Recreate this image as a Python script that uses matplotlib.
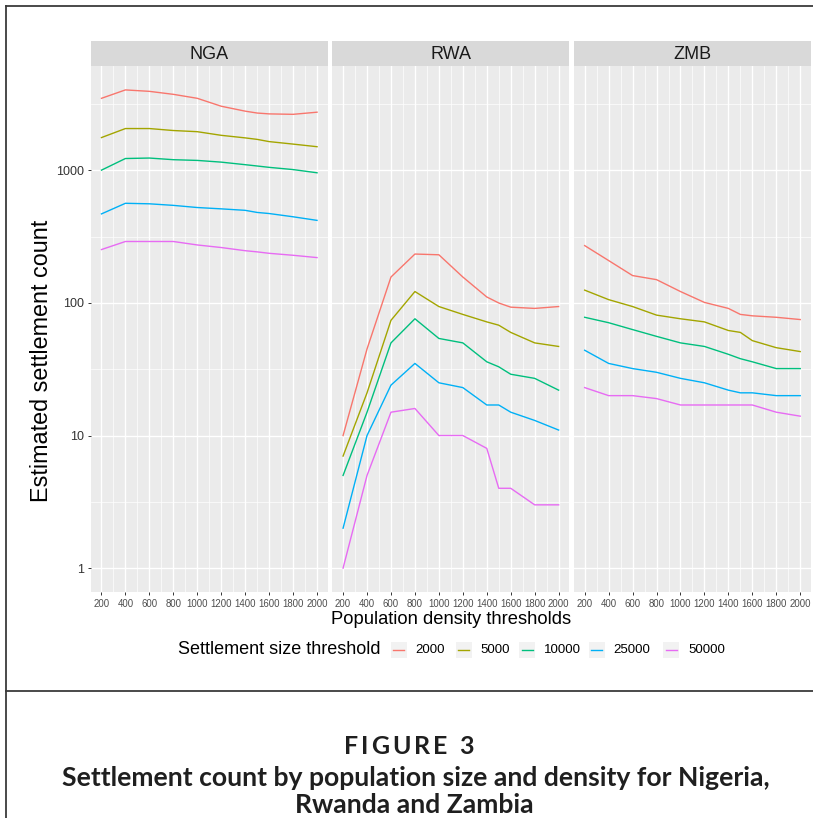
import numpy as np
import matplotlib
matplotlib.use("Agg")
import matplotlib.pyplot as plt
from matplotlib.lines import Line2D
from matplotlib.patches import Rectangle
from matplotlib.ticker import FixedLocator, NullFormatter

plt.rcParams['font.family'] = ['Liberation Sans', 'DejaVu Sans']

# ---- data -------------------------------------------------------------
density = [200, 400, 600, 800, 1000, 1200, 1400, 1500, 1600, 1800, 2000]
size_thresholds = ["2000", "5000", "10000", "25000", "50000"]
countries = ["NGA", "RWA", "ZMB"]

nga_2000 = [3500, 4050, 3950, 3750, 3500, 3050, 2800, 2710, 2670, 2650, 2750]
nga_5000 = [1770, 2070, 2070, 2000, 1960, 1840, 1760, 1715, 1650, 1580, 1510]
nga_10000 = [1005, 1230, 1240, 1205, 1190, 1155, 1105, 1080, 1055, 1015, 960]
nga_25000 = [470, 565, 560, 545, 525, 513, 500, 482, 473, 447, 420]
nga_50000 = [253, 291, 291, 291, 274, 262, 248, 243, 237, 229, 220]

rwa_2000 = [10, 45, 157, 234, 231, 157, 111, 100, 93, 91, 94]
rwa_5000 = [7, 21, 74, 122, 94, 82, 72, 68, 60, 50, 47]
rwa_10000 = [5, 15, 50, 76, 54, 50, 36, 33, 29, 27, 22]
rwa_25000 = [2, 10, 24, 35, 25, 23, 17, 17, 15, 13, 11]
rwa_50000 = [1, 5, 15, 16, 10, 10, 8, 4, 4, 3, 3]

zmb_2000 = [271, 209, 161, 150, 122, 101, 91, 82, 80, 78, 75]
zmb_5000 = [125, 106, 94, 81, 76, 72, 62, 60, 52, 46, 43]
zmb_10000 = [78, 71, 63, 56, 50, 47, 41, 38, 36, 32, 32]
zmb_25000 = [44, 35, 32, 30, 27, 25, 22, 21, 21, 20, 20]
zmb_50000 = [23, 20, 20, 19, 17, 17, 17, 17, 17, 15, 14]

series = {
    "NGA": [nga_2000, nga_5000, nga_10000, nga_25000, nga_50000],
    "RWA": [rwa_2000, rwa_5000, rwa_10000, rwa_25000, rwa_50000],
    "ZMB": [zmb_2000, zmb_5000, zmb_10000, zmb_25000, zmb_50000],
}
colors = ["#F8766D", "#A3A500", "#00BF7D", "#00B0F6", "#E76BF3"]

y_breaks = [1, 10, 100, 1000]
y_labels = ["1", "10", "100", "1000"]
x_breaks = [200, 400, 600, 800, 1000, 1200, 1400, 1600, 1800, 2000]

# ---- figure -----------------------------------------------------------
W, H = 813, 818
fig = plt.figure(figsize=(W / 100, H / 100), dpi=100)
fig.patch.set_facecolor("white")


def fx(px):
    return px / W


def fy(py):
    return 1 - py / H


# shared scales with ggplot-style 5% expansion
all_vals = np.concatenate([np.ravel(series[c]) for c in countries])
lo, hi = np.log10(all_vals.min()), np.log10(all_vals.max())
pad = 0.05 * (hi - lo)
ylim = (10 ** (lo - pad), 10 ** (hi + pad))
xpad = 0.05 * (max(density) - min(density))
xlim = (min(density) - xpad, max(density) + xpad)

panel_left, panel_right = 90.7, 811.0
panel_top, panel_bottom = 66.0, 592.0
gap = 4.5
pw = (panel_right - panel_left - 2 * gap) / 3
strip_h = 25.0

for i, c in enumerate(countries):
    x0 = panel_left + i * (pw + gap)
    ax = fig.add_axes([fx(x0), fy(panel_bottom), fx(pw), (panel_bottom - panel_top) / H])
    ax.set_facecolor("#EBEBEB")
    ax.set_yscale("log")
    ax.set_xlim(*xlim)
    ax.set_ylim(*ylim)
    for s in ax.spines.values():
        s.set_visible(False)

    # grid
    ax.xaxis.set_major_locator(FixedLocator(x_breaks))
    ax.xaxis.set_minor_locator(FixedLocator([b + 100 for b in x_breaks[:-1]]))
    ax.yaxis.set_major_locator(FixedLocator(y_breaks))
    ax.yaxis.set_minor_locator(FixedLocator([10 ** (k + 0.5) for k in range(-1, 4)]))
    ax.yaxis.set_minor_formatter(NullFormatter())
    ax.grid(which="major", color="white", linewidth=1.0)
    ax.grid(which="minor", color="white", linewidth=0.5)
    ax.set_axisbelow(True)

    for vals, col in zip(series[c], colors):
        ax.plot(density, vals, color=col, linewidth=1.0, solid_joinstyle="round")

    ax.tick_params(axis="x", which="major", length=2.5, width=0.7, color="#333333",
                   labelsize=6.9, labelcolor="#4D4D4D", pad=2.5)
    ax.tick_params(which="minor", length=0)
    ax.set_xticklabels([str(b) for b in x_breaks])
    if i == 0:
        ax.tick_params(axis="y", which="major", length=2.5, width=0.7, color="#333333",
                       labelsize=9, labelcolor="#333333", pad=2)
        ax.set_yticklabels(y_labels)
    else:
        ax.tick_params(axis="y", which="major", length=0, labelleft=False)

    # facet strip
    sax = fig.add_axes([fx(x0), fy(panel_top), fx(pw), strip_h / H])
    sax.set_facecolor("#D9D9D9")
    sax.set_xticks([])
    sax.set_yticks([])
    for s in sax.spines.values():
        s.set_visible(False)
    sax.text(0.5, 0.47, c, ha="center", va="center", fontsize=13, color="#1A1A1A",
             transform=sax.transAxes)

# axis titles
fig.text(fx((panel_left + panel_right) / 2), fy(619), "Population density thresholds",
         ha="center", va="center", fontsize=13.2, color="black")
fig.text(fx(42), fy(361), "Estimated settlement count", ha="center", va="center",
         rotation=90, fontsize=16.8, color="black")

# legend
leg_y = 650
fig.text(fx(178), fy(leg_y), "Settlement size threshold", ha="left", va="center",
         fontsize=13, color="black")
key_x = [390.7, 455.7, 519.0, 588.6, 663.0]
for kx, col, lab in zip(key_x, colors, size_thresholds):
    fig.add_artist(Rectangle((fx(kx), fy(leg_y + 8)), fx(16), 16 / H,
                             facecolor="#F2F2F2", edgecolor="none",
                             transform=fig.transFigure))
    fig.add_artist(Line2D([fx(kx + 2.5), fx(kx + 13.5)], [fy(leg_y), fy(leg_y)],
                          color=col, linewidth=1.0, transform=fig.transFigure))
    fig.text(fx(kx + 25), fy(leg_y), lab, ha="left", va="center", fontsize=9.5,
             color="black")

# frame rules
frame_col = "#3A3A3A"
fig.add_artist(Line2D([fx(5.5), 1], [fy(5.5), fy(5.5)], color=frame_col, lw=1.3,
                      transform=fig.transFigure))
fig.add_artist(Line2D([fx(5.5), fx(5.5)], [fy(5.5), 0], color=frame_col, lw=1.3,
                      transform=fig.transFigure))
fig.add_artist(Line2D([fx(5.5), 1], [fy(691), fy(691)], color=frame_col, lw=1.3,
                      transform=fig.transFigure))

# caption
cap_font = dict(family=["Lato", "DejaVu Sans"], weight="bold", color="#1F1F1F")
fig.canvas.draw()
renderer = fig.canvas.get_renderer()
heading = "FIGURE 3"
spacing_px = 3.0
glyphs = [fig.text(0, fy(754), ch, ha="left", va="baseline", fontsize=18, **cap_font)
          for ch in heading]
widths = [g.get_window_extent(renderer).width if ch != " " else 6.0
          for g, ch in zip(glyphs, heading)]
total = sum(widths) + spacing_px * (len(heading) - 1)
cx = 409 - total / 2
for g, w in zip(glyphs, widths):
    g.set_x(fx(cx))
    cx += w + spacing_px

fig.text(fx(416), fy(786), "Settlement count by population size and density for Nigeria,",
         ha="center", va="baseline", fontsize=19.1, **cap_font)
fig.text(fx(414), fy(813), "Rwanda and Zambia",
         ha="center", va="baseline", fontsize=19.1, **cap_font)

fig.savefig("out.png", dpi=100, facecolor="white")
